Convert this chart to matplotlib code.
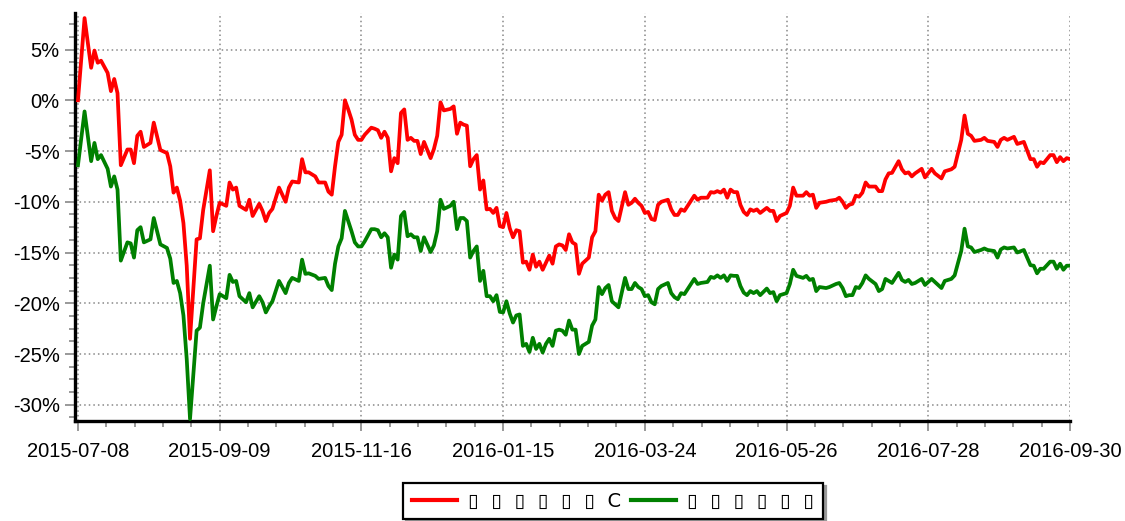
import matplotlib
matplotlib.use("Agg")
import matplotlib.pyplot as plt
from matplotlib.ticker import FixedLocator, MultipleLocator, FuncFormatter

# trading-day index (0 = 2015-07-08, 301 = 2016-09-30)
day_idx = [
    0, 2, 4, 5, 6, 7, 9, 10, 11, 12, 13, 15, 16, 17, 18, 19, 20, 22, 23, 25,
    27, 28, 29, 30, 31, 32, 33, 34, 36, 37, 38, 40, 41, 42, 43, 45, 46, 47, 48, 49,
    51, 52, 53, 55, 56, 57, 58, 59, 61, 63, 64, 65, 67, 68, 69, 70, 72, 73, 75, 76,
    77, 78, 79, 80, 81, 82, 83, 84, 85, 86, 87, 89, 90, 91, 92, 93, 94, 95, 96, 97,
    98, 99, 100, 101, 102, 103, 104, 105, 107, 108, 109, 110, 111, 113, 114, 115, 116, 117, 118, 119,
    120, 121, 122, 123, 124, 125, 126, 127, 128, 129, 130, 131, 132, 133, 134, 135, 136, 137, 138, 139,
    140, 141, 142, 143, 144, 145, 146, 147, 148, 149, 150, 151, 152, 153, 154, 155, 156, 157, 158, 159,
    160, 161, 162, 163, 164, 166, 167, 168, 169, 170, 171, 172, 173, 174, 175, 176, 177, 179, 180, 181,
    182, 183, 184, 185, 187, 188, 189, 191, 192, 193, 194, 195, 196, 197, 198, 199, 200, 201, 202, 203,
    204, 205, 206, 207, 209, 210, 211, 212, 213, 215, 216, 217, 218, 220, 221, 222, 223, 224, 225, 227,
    228, 230, 231, 232, 233, 234, 235, 236, 237, 238, 239, 240, 242, 243, 244, 245, 246, 247, 249, 250,
    251, 252, 253, 254, 256, 257, 259, 260, 262, 263, 265, 266, 268, 269, 270, 271, 272, 274, 275, 276,
    278, 279, 280, 281, 282, 284, 285, 287, 289, 290, 291, 292, 293, 295, 296, 297, 298, 299, 300, 301,
]

red_vals = [
    0.0, 8.1, 3.2, 4.9, 3.7, 3.9, 2.7, 0.9, 2.1, 0.7, -6.4, -4.85, -4.85, -6.2, -3.5, -3.1, -4.6, -4.2, -2.2, -4.9,
    -5.2, -6.5, -9.1, -8.6, -9.9, -12.1, -16.3, -23.5, -13.7, -13.6, -10.8, -6.9, -12.9, -11.4, -10.1, -10.4, -8.1, -8.8, -8.6, -10.4,
    -10.8, -9.8, -11.4, -10.2, -10.9, -11.9, -11.1, -10.7, -8.6, -10.0, -8.6, -8.0, -8.1, -5.8, -7.1, -7.1, -7.5, -8.1, -8.1, -9.0,
    -9.3, -6.5, -4.1, -3.4, 0.0, -0.9, -1.9, -3.4, -3.9, -3.9, -3.4, -2.7, -2.8, -2.95, -3.7, -3.1, -3.7, -7.0, -5.7, -6.2,
    -1.25, -0.9, -3.9, -3.7, -4.0, -4.0, -5.3, -4.1, -5.7, -4.8, -3.5, -0.2, -1.0, -0.85, -0.6, -3.3, -2.2, -2.4, -2.5, -6.5,
    -5.8, -5.4, -8.8, -7.9, -10.75, -10.7, -11.1, -10.6, -12.4, -12.5, -11.1, -12.6, -13.5, -12.8, -12.9, -16.0, -15.9, -16.7, -15.2, -16.4,
    -15.9, -16.7, -16.0, -15.3, -16.1, -14.4, -14.2, -14.3, -14.75, -13.2, -14.0, -14.2, -17.1, -16.1, -15.8, -15.5, -13.5, -12.9, -9.3, -9.9,
    -9.3, -9.05, -10.9, -11.6, -11.9, -9.05, -10.3, -10.1, -9.7, -10.1, -10.4, -11.1, -11.0, -11.7, -11.8, -10.3, -10.0, -9.8, -10.75, -11.3,
    -11.3, -10.75, -10.9, -10.4, -9.4, -9.8, -9.6, -9.6, -9.05, -9.1, -8.95, -9.1, -8.8, -9.6, -8.8, -9.05, -9.05, -10.3, -11.0, -11.3,
    -10.75, -10.9, -10.75, -11.1, -10.6, -10.9, -10.9, -11.9, -11.4, -11.1, -10.4, -8.6, -9.4, -9.4, -9.05, -9.4, -9.3, -10.6, -10.1, -10.0,
    -9.9, -9.8, -9.6, -10.0, -10.6, -10.3, -10.2, -9.4, -9.5, -9.1, -8.1, -8.5, -8.5, -8.95, -8.95, -7.8, -7.2, -7.15, -6.0, -6.8,
    -7.2, -7.1, -7.5, -7.2, -6.75, -7.6, -6.75, -7.2, -7.7, -7.0, -6.8, -6.55, -3.9, -1.5, -3.3, -3.5, -4.0, -3.9, -3.7, -4.0,
    -4.1, -4.6, -3.9, -3.7, -3.9, -3.6, -4.3, -4.1, -5.8, -5.8, -6.55, -6.1, -6.2, -5.4, -5.4, -6.1, -5.6, -6.0, -5.7, -5.8,
]

green_vals = [
    -6.4, -1.1, -6.0, -4.2, -5.8, -5.4, -6.75, -8.5, -7.5, -8.8, -15.8, -14.0, -14.1, -15.5, -12.8, -12.5, -14.0, -13.7, -11.6, -14.2,
    -14.55, -15.6, -18.0, -17.8, -19.0, -21.2, -25.5, -31.4, -22.7, -22.4, -20.0, -16.3, -21.6, -20.3, -19.1, -19.5, -17.2, -17.9, -17.8, -19.3,
    -19.9, -19.0, -20.4, -19.3, -19.9, -20.9, -20.3, -19.8, -17.8, -19.0, -18.0, -17.5, -17.8, -15.7, -17.1, -17.05, -17.3, -17.6, -17.5, -18.3,
    -18.7, -16.1, -14.4, -13.6, -10.9, -11.9, -12.9, -14.0, -14.4, -14.4, -13.9, -12.7, -12.7, -12.8, -13.5, -13.1, -13.5, -16.5, -15.2, -15.7,
    -11.4, -11.0, -13.4, -13.2, -13.5, -13.5, -14.85, -13.5, -14.95, -14.3, -12.9, -9.8, -10.7, -10.4, -10.0, -12.7, -11.6, -11.6, -11.9, -15.5,
    -14.85, -14.4, -17.8, -16.8, -19.3, -19.3, -19.8, -19.2, -20.85, -20.9, -19.8, -21.0, -21.9, -21.2, -21.1, -24.2, -24.0, -24.8, -23.4, -24.5,
    -24.0, -24.85, -24.0, -23.5, -24.2, -22.7, -22.6, -22.7, -23.1, -21.7, -22.6, -22.6, -25.0, -24.2, -24.0, -23.8, -22.2, -21.6, -18.4, -19.1,
    -18.5, -18.2, -19.8, -20.1, -20.4, -17.5, -18.6, -18.6, -18.0, -18.4, -18.6, -19.3, -19.2, -19.9, -20.1, -18.6, -18.3, -18.0, -19.0, -19.4,
    -19.6, -19.0, -19.1, -18.6, -17.6, -18.1, -18.0, -17.9, -17.4, -17.5, -17.25, -17.5, -17.25, -17.8, -17.25, -17.3, -17.3, -18.3, -18.95, -19.2,
    -18.8, -19.0, -18.8, -19.2, -18.55, -19.0, -18.9, -19.8, -19.2, -19.0, -18.1, -16.7, -17.3, -17.5, -17.3, -17.7, -17.6, -18.8, -18.4, -18.5,
    -18.4, -18.1, -18.0, -18.5, -19.3, -19.2, -19.2, -18.4, -18.5, -18.0, -17.25, -17.6, -18.1, -18.8, -18.6, -17.6, -17.8, -18.0, -17.0, -17.7,
    -17.9, -17.7, -18.1, -18.0, -17.6, -18.2, -17.6, -17.9, -18.5, -17.8, -17.6, -17.25, -14.85, -12.65, -14.4, -14.5, -14.95, -14.75, -14.6, -14.75,
    -14.85, -15.5, -14.7, -14.5, -14.6, -14.5, -15.0, -14.75, -16.25, -16.3, -17.05, -16.6, -16.6, -15.9, -15.9, -16.6, -16.1, -16.7, -16.3, -16.3,
]

assert len(day_idx) == len(red_vals) == len(green_vals), (len(day_idx), len(red_vals), len(green_vals))

tick_pos = [0, 43, 86, 129, 172, 215, 258, 301]
tick_labels = ["2015-07-08", "2015-09-09", "2015-11-16", "2016-01-15",
               "2016-03-24", "2016-05-26", "2016-07-28", "2016-09-30"]

series_names = ["▯  ▯  ▯  ▯  ▯  ▯  C", "▯  ▯  ▯  ▯  ▯  ▯"]
series_colors = ["#ff0000", "#008000"]

plt.rcParams['font.family'] = ['Liberation Sans', 'DejaVu Sans']

fig = plt.figure(figsize=(11.25, 5.21), dpi=100)
ax = fig.add_axes([75/1125, 1 - 421/521, (1070 - 75)/1125, (421 - 13)/521])

lw = 2.7
ax.plot(day_idx, red_vals, color=series_colors[0], lw=lw, label=series_names[0], zorder=3)
ax.plot(day_idx, green_vals, color=series_colors[1], lw=lw, label=series_names[1], zorder=3)

ax.set_xlim(-0.9, 301)
ax.set_ylim(-31.6, 8.6)

ax.xaxis.set_major_locator(FixedLocator(tick_pos))
ax.set_xticklabels(tick_labels)
ax.xaxis.set_minor_locator(MultipleLocator(43 / 5))
ax.yaxis.set_major_locator(MultipleLocator(5))
ax.yaxis.set_minor_locator(MultipleLocator(1.25))
ax.yaxis.set_major_formatter(FuncFormatter(lambda v, p: f"{v:.0f}%"))

for s in ("top", "right"):
    ax.spines[s].set_visible(False)
for s in ("left", "bottom"):
    ax.spines[s].set_linewidth(2.4)
    ax.spines[s].set_color("black")

ax.tick_params(which="major", direction="out", length=7, width=1.2, color="#888888",
               labelsize=14.5, labelcolor="black")
ax.tick_params(which="minor", direction="out", length=4, width=1.2, color="#888888")
ax.tick_params(axis="x", which="major", pad=8)
ax.tick_params(axis="y", which="major", pad=4)

ax.grid(True, which="major", linestyle=(0, (1, 2)), color="#888888", linewidth=1.1)
ax.set_axisbelow(True)

leg = fig.legend(loc="center", bbox_to_anchor=(0.545, 0.038), ncol=2, frameon=True,
                 fancybox=False, shadow={"color": "#999999", "alpha": 1.0},
                 handlelength=2.3, columnspacing=0.5, handletextpad=0.6,
                 borderpad=0.45, prop={"family": ["DejaVu Sans"], "size": 14})
leg.get_frame().set_edgecolor("black")
leg.get_frame().set_linewidth(1.6)
for line in leg.get_lines():
    line.set_linewidth(3)

fig.savefig("out.png", dpi=100)
